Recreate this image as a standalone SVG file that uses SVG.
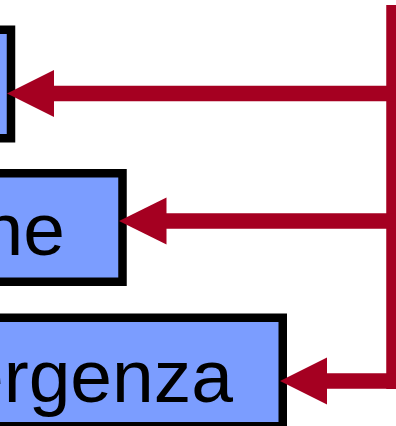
<svg xmlns="http://www.w3.org/2000/svg" width="396" height="426" viewBox="0 0 396 426">
<style>
.box{fill:#7b9dff;stroke:#000;stroke-width:8.5}
.lbl{font-family:"Liberation Sans",Arial,sans-serif;font-size:75px;fill:#000;text-anchor:end}
.wire{stroke:#a50021;stroke-width:15.5;fill:none}
.head{fill:#a50021}
</style>
<rect width="396" height="426" fill="#fff"/>
<g id="node1">
<rect class="box" x="-60" y="29.75" width="71" height="108.5"/>
</g>
<g id="node2">
<rect class="box" x="-60" y="173.25" width="182.5" height="108.5"/>
<text class="lbl" x="65" y="255">ne</text>
</g>
<g id="node3">
<rect class="box" x="-60" y="317.75" width="342.75" height="108.5"/>
<text class="lbl" x="233" y="402">ergenza</text>
</g>
<g id="connectors">
<line class="wire" x1="394" y1="5" x2="394" y2="389"/>
<line class="wire" x1="50" y1="93.5" x2="394" y2="93.5"/>
<line class="wire" x1="160" y1="221" x2="394" y2="221"/>
<line class="wire" x1="322" y1="381" x2="394" y2="381"/>
<polygon class="head" points="7,93.5 54,70 54,117"/>
<polygon class="head" points="119,221 166.5,197.5 166.5,244.5"/>
<polygon class="head" points="280,381 327,357.5 327,404.5"/>
</g>
</svg>
